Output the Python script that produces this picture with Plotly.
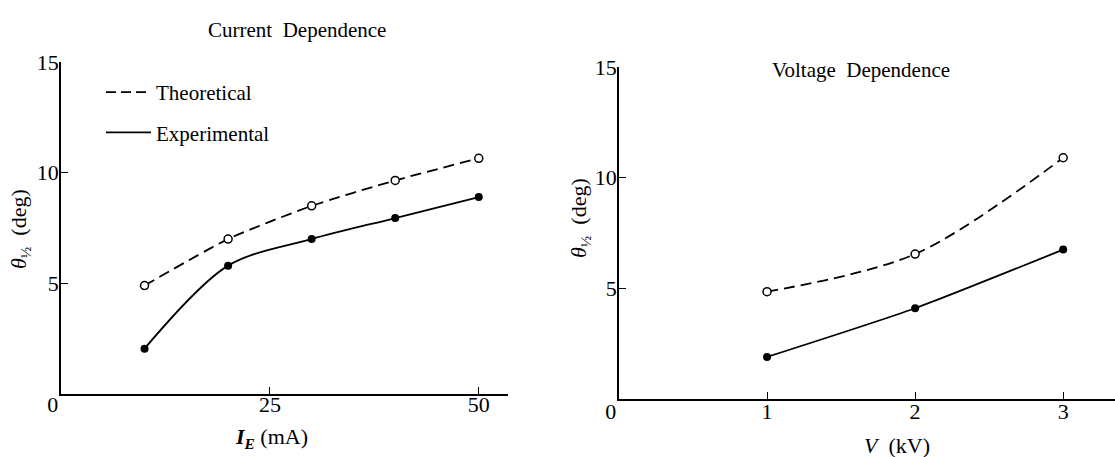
import plotly.graph_objects as go

# Current dependence (left panel)
current_mA = [10, 20, 30, 40, 50]
current_theoretical = [4.9, 7.0, 8.5, 9.65, 10.65]
current_experimental = [2.05, 5.8, 7.0, 7.95, 8.9]

# Voltage dependence (right panel)
voltage_kV = [1, 2, 3]
voltage_theoretical = [4.85, 6.55, 10.9]
voltage_experimental = [1.9, 4.1, 6.75]

left_xticks = [0, 25, 50]
right_xticks = [0, 1, 2, 3]
yticks = [5, 10, 15]
ZERO = "0\u00a0\u00a0\u00a0"

FONT = "Liberation Serif"
W, H = 1115, 457

fig = go.Figure()

dash = "11px,6px"
line_w = 1.8
msize = 8

def add_pair(x, yt, ye, xa, ya, sm_t, sm_e):
    fig.add_trace(go.Scatter(
        x=x, y=yt, xaxis=xa, yaxis=ya, mode="lines+markers",
        line=dict(color="black", width=line_w, dash=dash, shape="spline", smoothing=sm_t),
        marker=dict(symbol="circle", size=msize, color="white", line=dict(color="black", width=1.5)),
        showlegend=False, hoverinfo="skip"))
    fig.add_trace(go.Scatter(
        x=x, y=ye, xaxis=xa, yaxis=ya, mode="lines+markers",
        line=dict(color="black", width=line_w, shape="spline", smoothing=sm_e),
        marker=dict(symbol="circle", size=msize, color="black"),
        showlegend=False, hoverinfo="skip"))

add_pair(current_mA, current_theoretical, current_experimental, "x", "y", 0.6, 0.9)
add_pair(voltage_kV, voltage_theoretical, voltage_experimental, "x2", "y2", 0.9, 0.6)

# legend-only traces
fig.add_trace(go.Scatter(x=[None], y=[None], mode="lines", name="Theoretical",
                         line=dict(color="black", width=line_w, dash="10px,5px"),
                         legendgroup="a"))
fig.add_trace(go.Scatter(x=[None], y=[None], mode="lines", name="Experimental",
                         line=dict(color="black", width=line_w), legendgroup="b"))

axis_common = dict(
    showline=True, linecolor="black", linewidth=1.8, mirror=False,
    ticks="inside", ticklen=7, tickwidth=1.3, tickcolor="black",
    showgrid=False, zeroline=False, automargin=False,
    tickfont=dict(family=FONT, size=22, color="black"),
)

def xlab(vals):
    return [ZERO if v == 0 else str(v) for v in vals]

fig.update_layout(
    width=W, height=H,
    margin=dict(l=0, r=0, t=0, b=0, autoexpand=False),
    paper_bgcolor="white", plot_bgcolor="white",
    font=dict(family=FONT, color="black"),
    xaxis=dict(domain=[61 / W, 508 / W], range=[0, 53.5], tickvals=left_xticks,
               ticktext=xlab(left_xticks), anchor="y", ticklabelstandoff=-10, **axis_common),
    yaxis=dict(domain=[1 - 394 / H, 1 - 62 / H], range=[0, 15], tickvals=yticks,
               anchor="x", ticklabelstandoff=-4, **axis_common),
    xaxis2=dict(domain=[619 / W, 1.0], range=[0, 3.35], tickvals=right_xticks,
                ticktext=xlab(right_xticks), anchor="y2", ticklabelstandoff=-8, **axis_common),
    yaxis2=dict(domain=[1 - 399 / H, 1 - 67 / H], range=[0, 15], tickvals=yticks,
                anchor="x2", ticklabelstandoff=-4, **axis_common),
    legend=dict(x=101 / W, y=1 - 72 / H, xanchor="left", yanchor="top",
                bgcolor="rgba(0,0,0,0)", borderwidth=0,
                font=dict(family=FONT, size=21, color="black"),
                itemwidth=45, tracegroupgap=10, traceorder="grouped"),
)

def ann(text, x, y, size, angle=0):
    fig.add_annotation(text=text, x=x / W, y=1 - y / H, xref="paper", yref="paper",
                       showarrow=False, textangle=angle, xanchor="center", yanchor="middle",
                       font=dict(family=FONT, size=size, color="black"))

ann("Current  Dependence", 297, 30, 21)
ann("Voltage  Dependence", 861, 70, 21)
ann("<i>θ</i><sub>½</sub>  (deg)", 20, 229, 22, -90)
ann("<i>θ</i><sub>½</sub>  (deg)", 580, 218, 22, -90)
ann("<b><i>I</i></b><sub><b><i>E</i></b></sub> (mA)", 271, 438, 22)
ann("<i>V</i>  (kV)", 897, 445, 22)

fig.write_html("out.html")
